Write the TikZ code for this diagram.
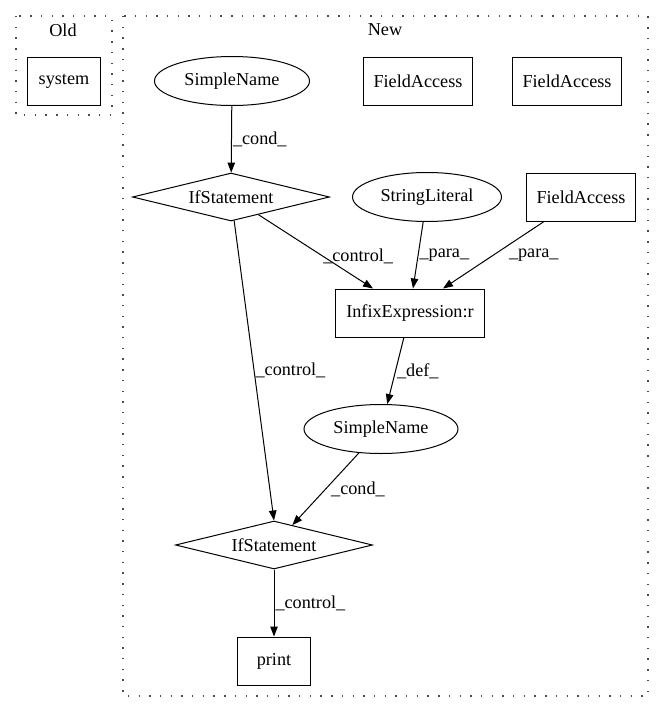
\documentclass[tikz,border=0pt]{standalone}
\usepackage{fontspec}
\setmainfont{Liberation Serif}
\usepackage{tikz}
\usetikzlibrary{shapes.geometric,arrows.meta}

\tikzset{
  every node/.style={font=\fontsize{18.2}{22}\selectfont},
  box/.style={draw, rectangle, line width=1pt, minimum height=48, minimum width=73, inner xsep=10.5},
  oval/.style={draw, ellipse, line width=1pt, minimum height=49, inner sep=0},
  cond/.style={draw, diamond, aspect=4.1, line width=1pt, minimum width=197, minimum height=48, inner sep=0},
  cluster/.style={line width=1.3pt, dash pattern=on 1.4pt off 9.3pt, gray!60!black},
  flow/.style={line width=1pt, -{Triangle[length=10pt,width=7.5pt]}},
  lbl/.style={anchor=west, inner sep=1pt}
}

\begin{document}
\begin{tikzpicture}[x=1pt, y=-1pt]

\useasboundingbox (0,0) rectangle (664,712);

\draw[cluster] (16,16) rectangle (112,115);
\node (oldlbl) at (63,30) {Old};
\node[box] (system) at (64,81) {system};

\draw[cluster] (123,16) rectangle (648,696);
\node (newlbl) at (385,30) {New};

\node[oval, minimum width=155] (SimpleName1) at (232,81) {SimpleName};
\node[box] (FieldAccess1) at (418,81) {FieldAccess};
\node[box] (FieldAccess2) at (567,81) {FieldAccess};

\node[cond] (IfStatement1) at (231,197) {IfStatement};
\node[oval, minimum width=149] (StringLiteral) at (427,197) {StringLiteral};
\node[box] (FieldAccess3) at (581,197) {FieldAccess};

\node[box] (Infix) at (410,313) {InfixExpression:r};
\node[oval, minimum width=154] (SimpleName2) at (381,429) {SimpleName};
\node[cond] (IfStatement2) at (274,545) {IfStatement};
\node[box] (print) at (274,661) {print};

\draw[flow] (SimpleName1) -- (IfStatement1) node[lbl, midway] {\_cond\_};
\draw[flow] (IfStatement1) -- ([xshift=-37]Infix.north) node[lbl, pos=0.57, xshift=-2] {\_control\_};
\draw[flow] (StringLiteral) -- ([xshift=3]Infix.north) node[lbl, midway] {\_para\_};
\draw[flow] (FieldAccess3) -- ([xshift=33]Infix.north) node[lbl, midway, xshift=14] {\_para\_};
\draw[flow] (IfStatement1) -- (IfStatement2.north) node[lbl, midway] {\_control\_};
\draw[flow] (Infix) -- (SimpleName2) node[lbl, midway] {\_def\_};
\draw[flow] (SimpleName2) -- (IfStatement2) node[lbl, midway, xshift=4] {\_cond\_};
\draw[flow] (IfStatement2) -- (print) node[lbl, midway] {\_control\_};

\end{tikzpicture}
\end{document}
